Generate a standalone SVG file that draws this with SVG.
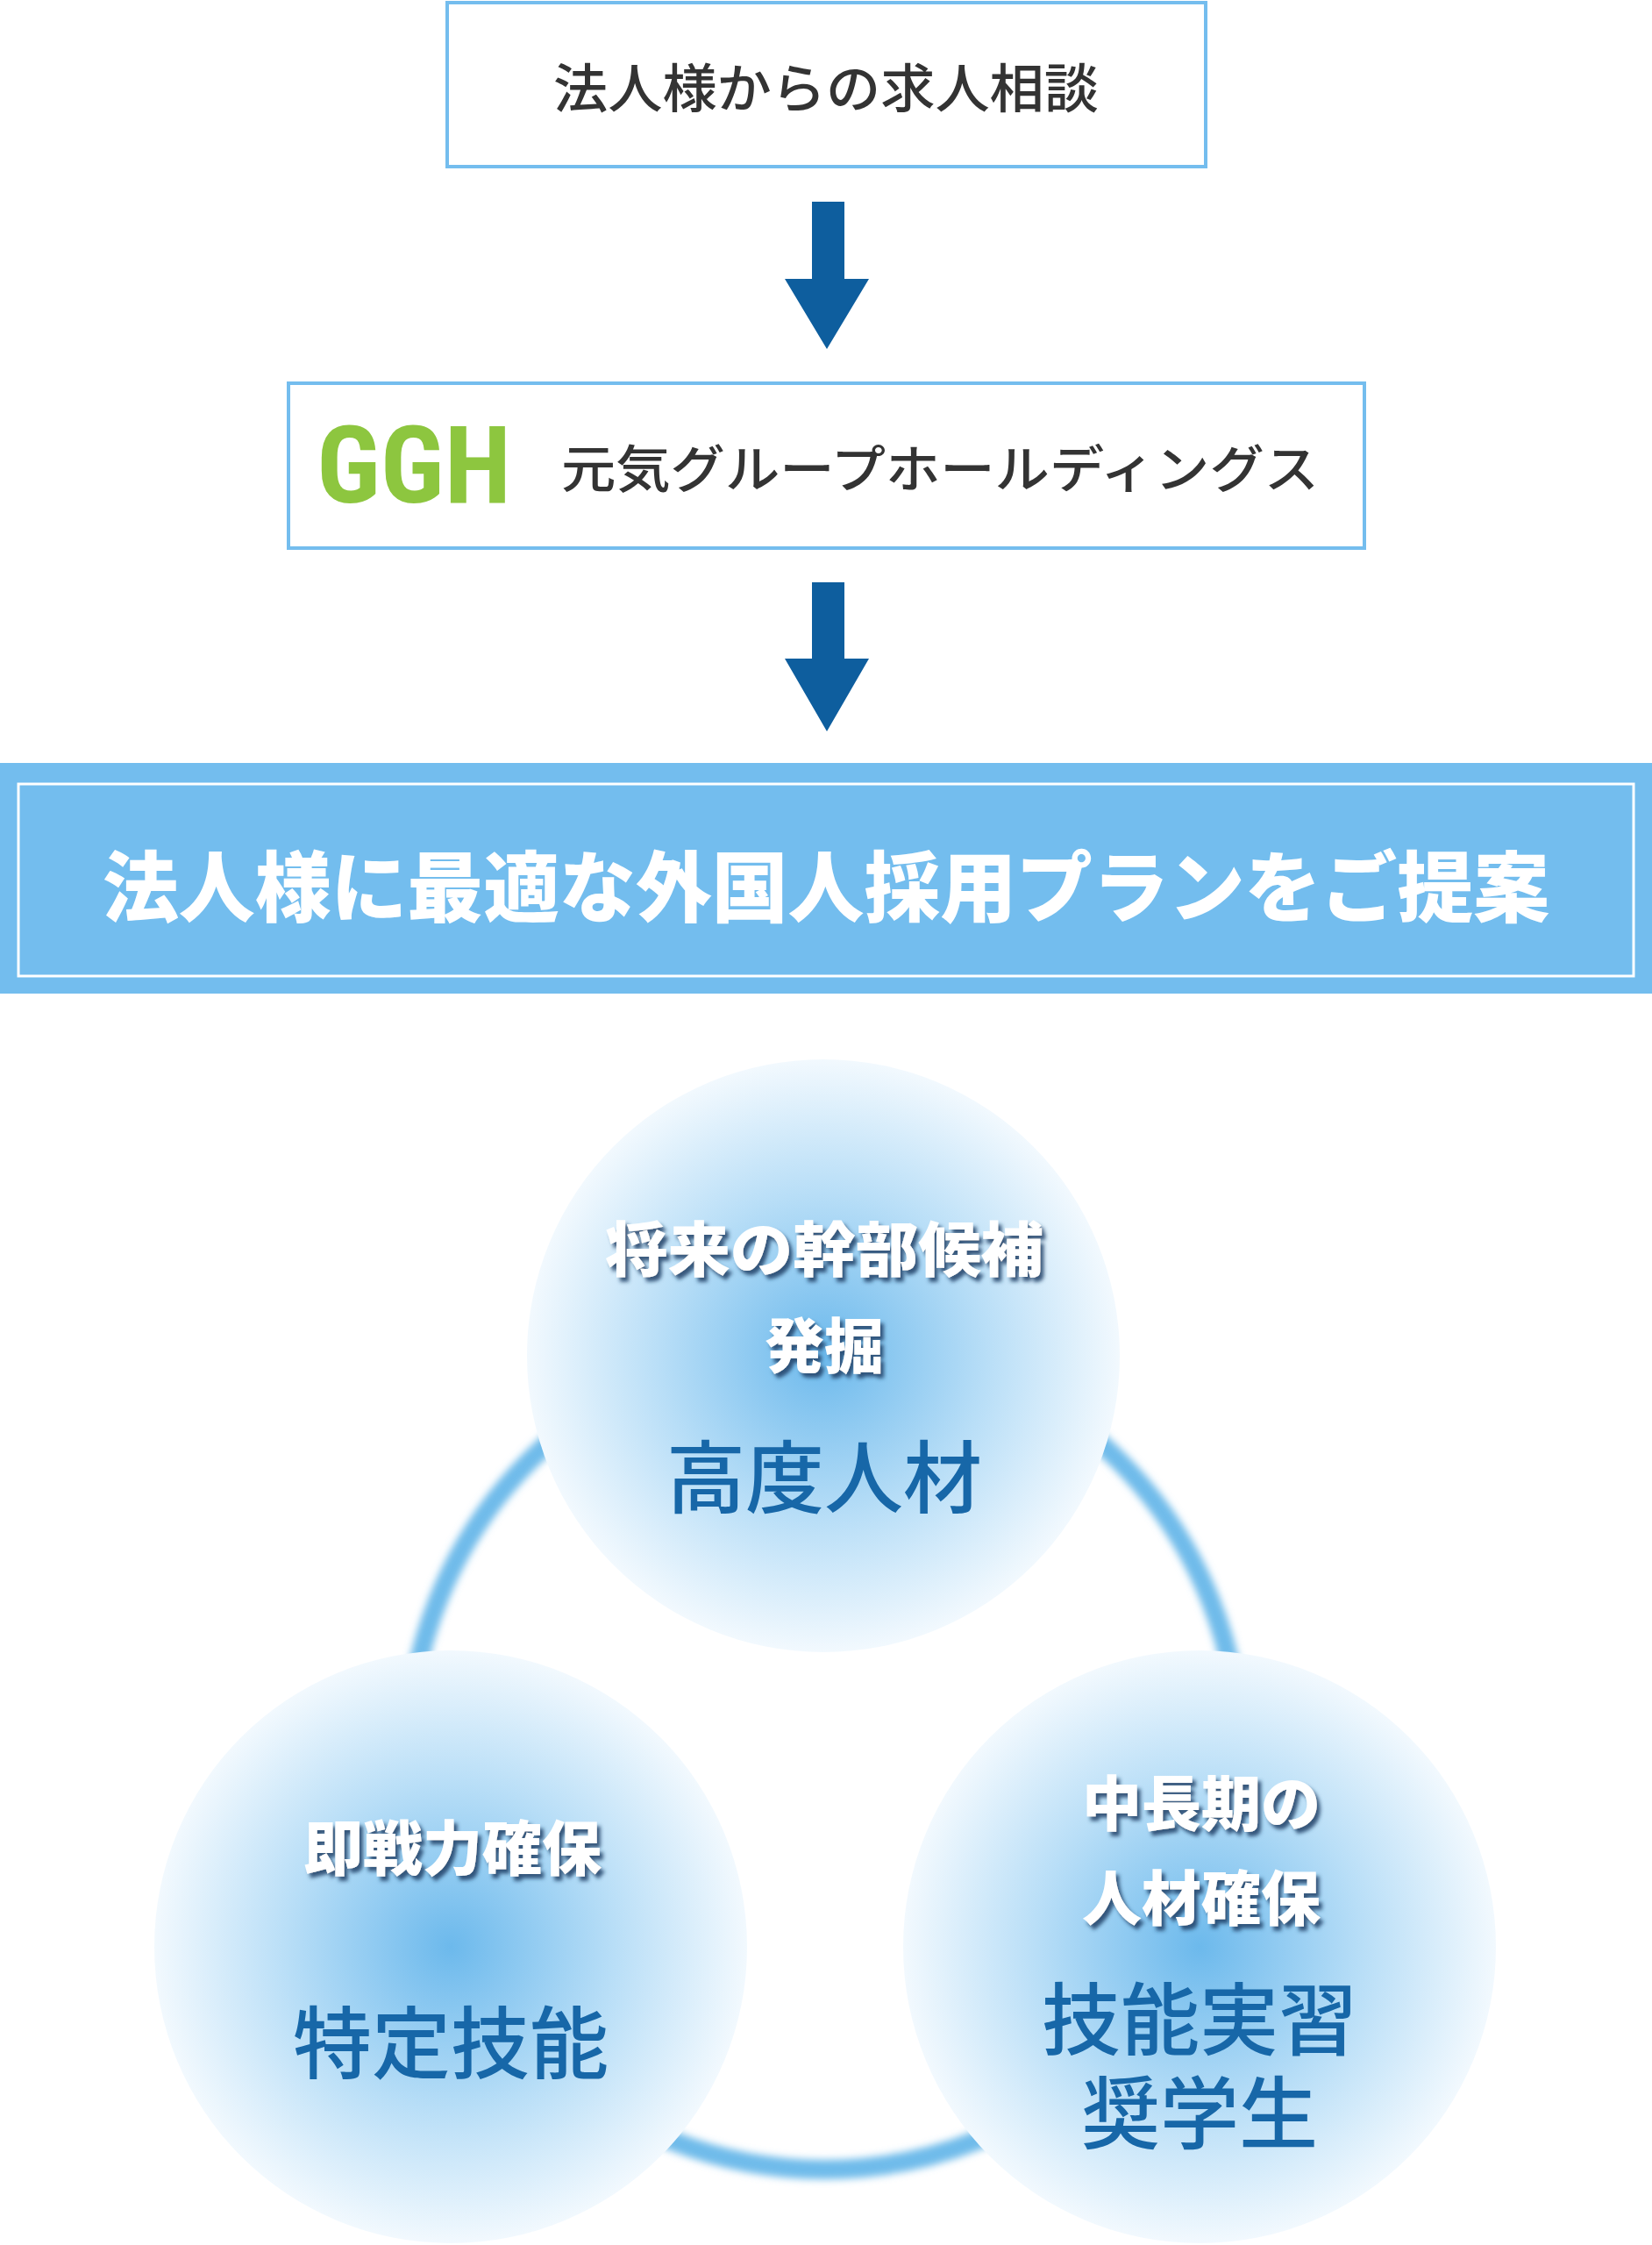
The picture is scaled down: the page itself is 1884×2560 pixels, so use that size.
<svg xmlns="http://www.w3.org/2000/svg" width="1884" height="2560" viewBox="0 0 1884 2560">
<style>
.box{fill:#fff;stroke:#74bdee;stroke-width:4}
.dark{font-family:"Noto Sans CJK JP","Noto Sans",sans-serif;font-weight:500;fill:#333;text-anchor:middle}
.wb{font-family:"Noto Sans CJK JP",sans-serif;font-weight:900;fill:#fff;text-anchor:middle;filter:url(#sh)}
.blu{font-family:"Noto Sans CJK JP",sans-serif;font-weight:500;fill:#1767a8;text-anchor:middle}
.arr{fill:#0e5e9e}
</style>
<defs>
<radialGradient id="cg"><stop offset="0" stop-color="#6cb9ec"/><stop offset="0.55" stop-color="#b8def7"/><stop offset="1" stop-color="#f2f9fe"/></radialGradient>
<filter id="sh" x="-10%" y="-20%" width="130%" height="160%"><feDropShadow dx="4" dy="5" stdDeviation="2" flood-color="#1b3f66" flood-opacity="0.85"/></filter>
<filter id="bl"><feGaussianBlur stdDeviation="4"/></filter>
</defs>
<g id="connectors">
<path class="arr" d="M926 230h37v88h28l-48 80l-48-80h31z"/>
<path class="arr" d="M926 664h37v87h28l-48 83l-48-83h31z"/>
<circle cx="940" cy="2000" r="474" fill="none" stroke="#6fbbea" stroke-width="22" filter="url(#bl)"/>
</g>
<g id="n1"><rect class="box" x="510" y="3" width="865" height="187"/>
<text class="dark" x="942" y="123" font-size="60" textLength="622" lengthAdjust="spacingAndGlyphs">法人様からの求人相談</text></g>
<g id="n2"><rect class="box" x="329" y="437" width="1227" height="188"/>
<text x="472" y="573" font-family="Liberation Sans Narrow,Roboto Condensed,Liberation Sans,sans-serif" font-weight="bold" font-size="122" fill="#8dc63f" text-anchor="middle" textLength="222" lengthAdjust="spacingAndGlyphs">GGH</text>
<text class="dark" x="1072" y="556" font-size="58" textLength="864" lengthAdjust="spacingAndGlyphs">元気グループホールディングス</text></g>
<g id="n3"><rect x="0" y="870" width="1884" height="263" fill="#73bdee"/>
<rect x="21" y="894" width="1842" height="219" fill="none" stroke="#fff" stroke-width="3"/>
<text x="942" y="1044" font-family="Noto Sans CJK JP,sans-serif" font-weight="900" font-size="88" fill="#fff" text-anchor="middle" textLength="1650" lengthAdjust="spacingAndGlyphs">法人様に最適な外国人採用プランをご提案</text></g>
<g id="c1"><circle cx="939" cy="1546" r="338" fill="url(#cg)"/>
<text class="wb" x="940" y="1450" font-size="68" textLength="500" lengthAdjust="spacingAndGlyphs">将来の幹部候補</text>
<text class="wb" x="940" y="1560" font-size="68">発掘</text>
<text class="blu" x="940" y="1718" font-size="90">高度人材</text></g>
<g id="c2"><circle cx="514" cy="2220" r="338" fill="url(#cg)"/>
<text class="wb" x="516" y="2133" font-size="68">即戦力確保</text>
<text class="blu" x="514" y="2363" font-size="90">特定技能</text></g>
<g id="c3"><circle cx="1368" cy="2220" r="338" fill="url(#cg)"/>
<text class="wb" x="1370" y="2082" font-size="68">中長期の</text>
<text class="wb" x="1370" y="2190" font-size="68">人材確保</text>
<text class="blu" x="1368" y="2336" font-size="90">技能実習</text>
<text class="blu" x="1368" y="2443" font-size="90">奨学生</text></g>
</svg>
